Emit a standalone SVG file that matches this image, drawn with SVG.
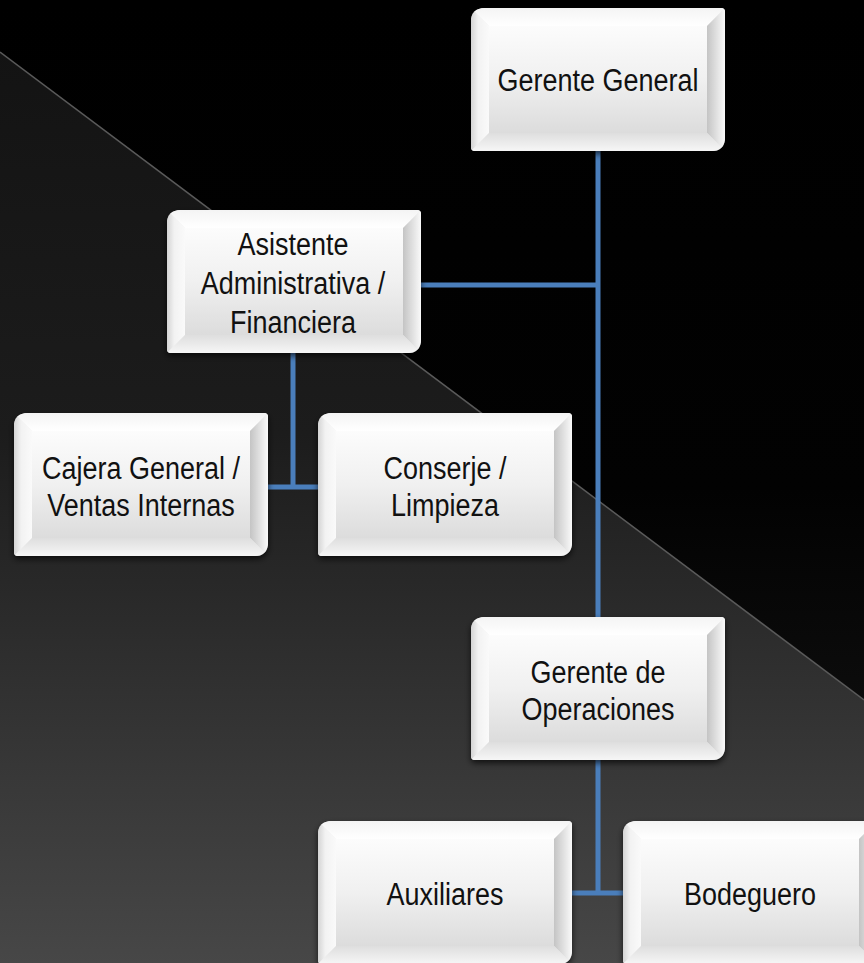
<svg xmlns="http://www.w3.org/2000/svg" xmlns:xlink="http://www.w3.org/1999/xlink" width="864" height="963" viewBox="0 0 864 963">
<style>
.lbl{font-family:"Liberation Sans",Arial,sans-serif;font-size:31px;fill:#111;text-anchor:middle}
.conn{stroke:#4a7ebb;stroke-width:5;fill:none}
</style>
<defs>
<linearGradient id="bgGray" x1="0" y1="0" x2="0" y2="1">
<stop offset="0" stop-color="#121212"/>
<stop offset="0.45" stop-color="#1c1c1c"/>
<stop offset="1" stop-color="#474747"/>
</linearGradient>
<linearGradient id="bgBlack" x1="0" y1="0" x2="0" y2="1">
<stop offset="0" stop-color="#000"/>
<stop offset="0.7" stop-color="#020202"/>
<stop offset="1" stop-color="#0c0c0c"/>
</linearGradient>
<linearGradient id="gFace" x1="0" y1="0" x2="0" y2="1">
<stop offset="0" stop-color="#fcfcfc"/>
<stop offset="0.5" stop-color="#f0f0f0"/>
<stop offset="1" stop-color="#dcdcdc"/>
</linearGradient>
<linearGradient id="gTop" x1="0" y1="0" x2="0" y2="1">
<stop offset="0" stop-color="#f4f4f4"/>
<stop offset="1" stop-color="#ffffff"/>
</linearGradient>
<linearGradient id="gLeft" x1="0" y1="0" x2="1" y2="0">
<stop offset="0" stop-color="#d4d4d4"/>
<stop offset="0.4" stop-color="#f2f2f2"/>
<stop offset="1" stop-color="#fafafa"/>
</linearGradient>
<linearGradient id="gRight" x1="0" y1="0" x2="1" y2="0">
<stop offset="0" stop-color="#c4c4c4"/>
<stop offset="0.6" stop-color="#e4e4e4"/>
<stop offset="1" stop-color="#fafafa"/>
</linearGradient>
<linearGradient id="gBottom" x1="0" y1="0" x2="0" y2="1">
<stop offset="0" stop-color="#dedede"/>
<stop offset="1" stop-color="#f6f6f6"/>
</linearGradient>
<clipPath id="bc"><path d="M14,0 H250 Q254,0 254,4 V129 Q254,143 240,143 H4 Q0,143 0,139 V14 Q0,0 14,0 Z"/></clipPath>
<filter id="sh" x="-10%" y="-10%" width="120%" height="125%">
<feDropShadow dx="0" dy="3" stdDeviation="3" flood-color="#000" flood-opacity="0.7"/>
</filter>
<g id="box">
<g filter="url(#sh)">
<g clip-path="url(#bc)">
<rect width="254" height="143" fill="#efefef"/>
<polygon points="0,0 254,0 236,18 18,18" fill="url(#gTop)"/>
<polygon points="0,0 18,18 18,125 0,143" fill="url(#gLeft)"/>
<polygon points="254,0 254,143 236,125 236,18" fill="url(#gRight)"/>
<polygon points="0,143 18,125 236,125 254,143" fill="url(#gBottom)"/>
<rect x="18" y="18" width="218" height="107" fill="url(#gFace)"/>
</g>
</g>
</g>
</defs>

<g id="background">
<rect width="864" height="963" fill="url(#bgGray)"/>
<polygon points="0,0 864,0 864,700 0,52" fill="url(#bgBlack)"/>
<line x1="0" y1="52" x2="864" y2="700" stroke="#5a5a5a" stroke-width="1.5"/>
</g>

<g id="connectors">
<path class="conn" d="M598,150 V617"/>
<path class="conn" d="M420,285 H598"/>
<path class="conn" d="M293,353 V487"/>
<path class="conn" d="M268,487 H318"/>
<path class="conn" d="M598,760 V893"/>
<path class="conn" d="M572,893 H623"/>
</g>

<g id="gerente-general">
<use xlink:href="#box" x="471" y="8"/>
<text class="lbl" transform="translate(598,91) scale(0.87,1)">Gerente General</text>
</g>

<g id="asistente">
<use xlink:href="#box" x="167" y="210"/>
<text class="lbl" transform="translate(293,255) scale(0.87,1)"><tspan x="0" y="0">Asistente</tspan><tspan x="0" y="39">Administrativa /</tspan><tspan x="0" y="78">Financiera</tspan></text>
</g>

<g id="cajera">
<use xlink:href="#box" x="14" y="413"/>
<text class="lbl" transform="translate(141,479) scale(0.87,1)"><tspan x="0" y="0">Cajera General /</tspan><tspan x="0" y="37">Ventas Internas</tspan></text>
</g>

<g id="conserje">
<use xlink:href="#box" x="318" y="413"/>
<text class="lbl" transform="translate(445,479) scale(0.87,1)"><tspan x="0" y="0">Conserje /</tspan><tspan x="0" y="37">Limpieza</tspan></text>
</g>

<g id="gerente-operaciones">
<use xlink:href="#box" x="471" y="617"/>
<text class="lbl" transform="translate(598,683) scale(0.87,1)"><tspan x="0" y="0">Gerente de</tspan><tspan x="0" y="37">Operaciones</tspan></text>
</g>

<g id="auxiliares">
<use xlink:href="#box" x="318" y="821"/>
<text class="lbl" transform="translate(445,905) scale(0.87,1)">Auxiliares</text>
</g>

<g id="bodeguero">
<use xlink:href="#box" x="623" y="821"/>
<text class="lbl" transform="translate(750,905) scale(0.87,1)">Bodeguero</text>
</g>
</svg>
